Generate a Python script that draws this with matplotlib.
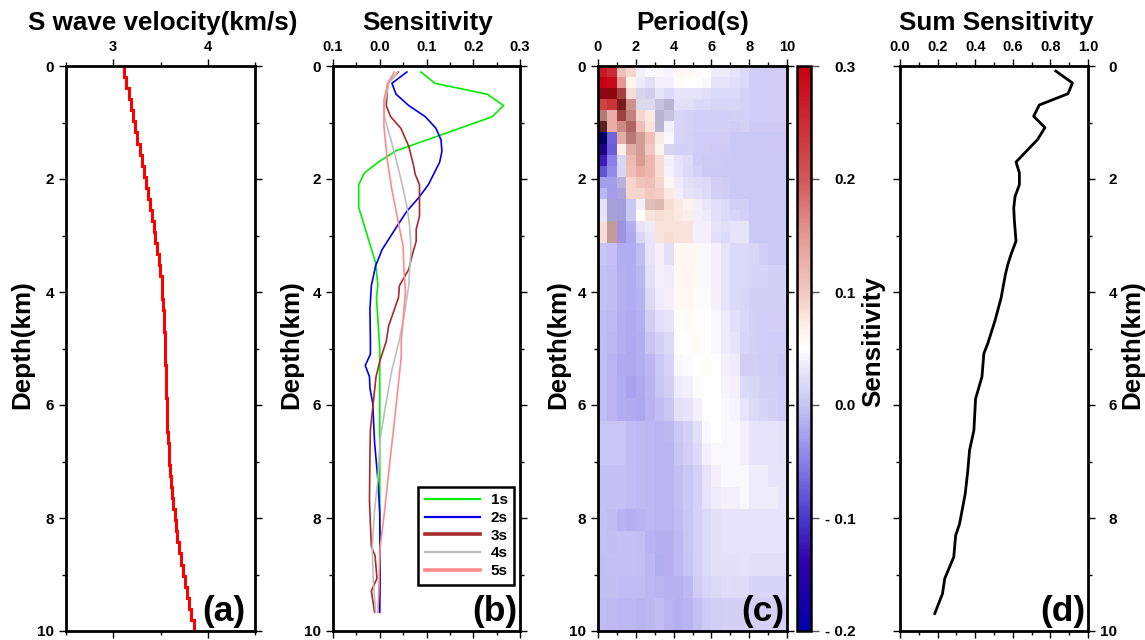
"""
Depth profiles of S wave velocity and surface wave sensitivity, four panels.
Saves out.png.
"""

import numpy as np
import matplotlib
matplotlib.use("Agg")
import matplotlib.pyplot as plt
from matplotlib.colors import LinearSegmentedColormap
from matplotlib.ticker import FixedLocator

plt.rcParams.update({
    "font.family": ["Liberation Sans", "DejaVu Sans"],
    "font.weight": "bold",
    "font.size": 11,
    "axes.linewidth": 2.0,
    "figure.facecolor": "white",
})

# panel (a), one velocity per layer
VS = [3.117, 3.138, 3.163, 3.188, 3.209, 3.23, 3.255, 3.28, 3.301, 3.323, 3.344, 3.365, 3.387,
      3.408, 3.429, 3.447, 3.465, 3.482, 3.496, 3.511, 3.521, 3.528, 3.532, 3.539, 3.543, 3.546,
      3.55, 3.553, 3.557, 3.56, 3.564, 3.567, 3.571, 3.578, 3.585, 3.592, 3.603, 3.613, 3.624,
      3.635, 3.649, 3.663, 3.677, 3.695, 3.713, 3.734, 3.755, 3.78, 3.801, 3.823, 3.851]

# panel (b), sensitivity kernels
S1_X = [.088, .118, .23, .265, .24, .126, .035, -.002, -.033, -.045, -.045, -.009, -.004, -.007, 0, 0, 0, 0]
S1_D = [.106, .306, .5, .7, .9, 1.235, 1.5, 1.694, 1.894, 2.1, 2.5, 3.48, 3.88, 4.1, 5, 6.5, 8, 8.8]
S2_X = [.058, .026, .035, .062, .097, .12, .131, .133, .128, .104, .083, .058, .037, .005, -.009, -.018,
        -.021, -.02, -.02, -.031, -.022, -.021, -.015, -.011, -.004, 0, .001, 0]
S2_D = [.106, .306, .5, .7, .894, 1.1, 1.306, 1.512, 1.706, 2.1, 2.335, 2.57, 2.835, 3.25, 3.54, 3.89,
        4.3, 4.85, 5.1, 5.3, 5.5, 5.7, 5.97, 6.67, 7.32, 7.9, 8.85, 9.67]
S3_X = [.04, .017, .014, .023, .045, .062, .072, .076, .085, .085, .078, .078, .069, .062, .042, .04, .019,
        .014, .001, -.008, -.014, -.02, -.021, -.022, -.018, -.01, -.006, -.018, -.011]
S3_D = [.106, .306, .7, .894, 1.1, 1.42, 1.75, 1.92, 2.1, 2.66, 2.89, 3.1, 3.36, 3.6, 3.89, 4.1, 4.6,
        4.87, 5.2, 5.5, 5.97, 6.44, 6.9, 7.7, 8.5, 8.67, 9.07, 9.29, 9.67]
S4_X = [.038, .019, .01, .01, .023, .037, .048, .058, .064, .067, .064, .062, .051, .042, .026, .012, .001,
        -.004, -.011, -.016, -.014, -.009]
S4_D = [.106, .306, .7, .894, 1.28, 1.72, 2.1, 2.48, 2.835, 3.25, 3.6, 3.89, 4.48, 4.85, 5.38, 6.03, 6.6,
        7.32, 7.85, 8.5, 9.1, 9.67]
S5_X = [.031, .017, .009, .009, .016, .026, .04, .05, .052, .055, .05, .046, .046, .037, .031, .023, .016,
        .01, .001, -.002, -.004]
S5_D = [.106, .306, .6, 1.07, 1.66, 2.19, 2.78, 3.19, 3.66, 4.0, 4.48, 4.85, 5.15, 5.85, 6.32, 6.9, 7.44,
        7.9, 8.5, 9.3, 9.67]
LEGEND_LABELS = ["1s", "2s", "3s", "4s", "5s"]

# panel (c), rows run down in depth, columns are 0.5 s wide
SENS = [
    [.27, .25, .11, .09, .04, .045, .045, .042, .06, .06, .055, .05, .035, .035, .03, .02, .008, .008, .008, .008],
    [.3, .29, .15, .065, .035, .025, .04, .04, .055, .05, .05, .045, .03, .03, .025, .02, .008, .008, .008, .008],
    [.29, .29, .21, .085, .025, .02, .03, .02, .03, .03, .03, .025, .02, .02, .02, .012, .008, .008, .008, .008],
    [.22, .24, .25, .14, .03, .03, .02, .015, .025, .025, .02, .02, .015, .015, .015, .012, .008, .008, .008, .008],
    [.15, .13, .2, .15, .09, .075, .015, .02, .015, .012, .01, .01, .01, .01, .012, .012, .008, .008, .008, .008],
    [.22, .13, .15, .17, .11, .08, .015, .04, .015, .012, .01, .01, .01, .01, .008, .012, .006, .006, .006, .006],
    [-.2, -.07, .12, .15, .13, .11, .075, .045, .015, .012, .008, .008, .008, .008, .005, .005, .005, .005, .005, .005],
    [-.15, -.075, .07, .12, .13, .1, .065, .025, .012, .012, .008, .008, .006, .006, .004, .004, .004, .004, .004, .004],
    [-.12, -.05, .015, .115, .14, .12, .085, .04, .03, .022, .008, .006, .006, .005, .004, .004, .004, .004, .004, .004],
    [-.08, -.04, .015, .11, .13, .12, .085, .042, .03, .02, .012, .005, .005, .005, .004, .004, .004, .004, .004, .004],
    [-.03, -.03, .002, .09, .105, .11, .09, .06, .035, .025, .022, .02, .01, .008, .005, .005, .004, .004, .004, .004],
    [-.01, -.03, -.01, .09, .09, .1, .095, .075, .04, .03, .025, .02, .01, .008, .005, .005, .004, .004, .004, .004],
    [.03, -.012, -.015, .005, .04, .09, .095, .085, .075, .065, .04, .032, .025, .02, .01, .01, .004, .004, .004, .004],
    [.03, -.012, -.015, .005, .05, .08, .085, .08, .075, .07, .04, .035, .025, .02, .015, .012, .004, .004, .004, .004],
    [.085, .11, -.03, -.015, .03, .035, .08, .08, .08, .08, .04, .04, .03, .025, .03, .03, .004, .004, .004, .004],
    [.085, .11, -.03, -.02, .015, .03, .08, .085, .08, .08, .04, .04, .025, .02, .03, .03, .004, .004, .004, .004],
    [0, -.002, -.018, -.018, -.005, .03, .04, .025, .06, .06, .058, .045, .04, .03, .02, .02, .015, .01, .005, .005],
    [-.002, -.005, -.015, -.018, -.01, .025, .04, .035, .06, .062, .058, .045, .04, .03, .02, .02, .015, .015, .012, .012],
    [-.002, -.005, -.015, -.018, -.012, .018, .035, .04, .06, .06, .055, .048, .04, .03, .02, .015, .012, .012, .012, .012],
    [-.005, -.008, -.015, -.02, -.015, .01, .025, .03, .052, .054, .052, .05, .045, .035, .025, .018, .012, .01, .01, .01],
    [-.005, -.01, -.015, -.02, -.018, 0, .012, .02, .05, .052, .054, .05, .045, .035, .03, .015, .012, .01, .008, .008],
    [-.005, -.012, -.02, -.02, -.018, -.01, .005, .015, .045, .048, .05, .052, .05, .04, .035, .01, .01, .008, .008, .005],
    [-.005, -.012, -.018, -.025, -.02, -.012, 0, .01, .035, .04, .048, .05, .05, .042, .04, .02, .015, .012, .01, .008],
    [-.005, -.012, -.018, -.02, -.022, -.012, -.005, .002, .025, .03, .04, .05, .05, .045, .042, .03, .02, .015, .012, .008],
    [0, 0, 0, -.005, -.008, -.01, -.012, -.01, .005, .012, .025, .045, .05, .045, .045, .04, .03, .03, .03, .028],
    [0, 0, 0, -.005, -.008, -.01, -.012, -.012, .003, .01, .02, .04, .045, .045, .045, .04, .03, .03, .03, .028],
    [-.002, -.002, -.002, -.005, -.008, -.01, -.012, -.012, -.003, .005, .012, .03, .04, .045, .045, .045, .035, .035, .03, .03],
    [-.002, -.002, -.002, -.005, -.008, -.01, -.012, -.012, -.003, .005, .012, .03, .035, .04, .04, .045, .035, .035, .035, .03],
    [-.002, -.005, -.012, -.015, -.012, -.01, -.012, -.012, -.005, .002, .012, .02, .028, .03, .03, .03, .03, .03, .03, .03],
    [-.002, -.004, -.002, -.002, -.004, -.012, -.016, -.016, -.008, .002, .012, .02, .028, .03, .03, .03, .03, .03, .03, .03],
    [-.003, -.002, -.001, -.001, -.004, -.01, -.018, -.016, -.008, 0, .012, .02, .028, .028, .028, .03, .025, .025, .025, .025],
    [-.004, -.004, -.005, -.005, -.006, -.01, -.012, -.014, -.014, -.008, .008, .015, .02, .024, .022, .022, .016, .016, .016, .016],
    [-.005, -.008, -.01, -.01, -.012, -.01, -.006, -.012, -.015, -.012, -.004, .006, .01, .012, .012, .012, .012, .012, .012, .012],
]
# layer index of each row edge, 51 layers over 10 km
ROW_EDGES = list(range(17)) + list(range(18, 50, 2)) + [51]

# darkening of the cells near the surface, first 16 rows and 8 columns
DARK = [
    [0, 0, 0, 0, 0, 0, 0, 0],
    [0, 0, 0, 0, 0, 0, 0, 0],
    [.28, .3, .2, 0, .05, .05, 0, 0],
    [0, 0, .4, .1, .05, .05, .1, .15],
    [.2, 0, .25, .15, 0, 0, .15, .1],
    [.55, 0, .1, .2, 0, 0, .15, 0],
    [.4, 0, .05, .2, .1, 0, 0, 0],
    [.2, 0, 0, .05, .1, 0, 0, .05],
    [0, 0, 0, 0, .05, 0, 0, 0],
    [0, 0, 0, 0, 0, 0, 0, 0],
    [0, 0, .1, 0, 0, 0, 0, 0],
    [0, 0, .1, 0, 0, 0, 0, 0],
    [0, .1, .1, 0, 0, .1, .1, 0],
    [0, .1, .1, 0, 0, 0, 0, 0],
    [0, .18, .05, 0, 0, 0, 0, 0],
    [0, .18, .05, 0, 0, 0, 0, 0],
]

CB_STOPS = [-.2, -.14, -.1, -.05, 0, .03, .05, .07, .1, .15, .2, .3]
CB_COLORS = ["#0000a8", "#3000a8", "#4a3acb", "#8a80e8", "#c8c4f4", "#e8e4fa", "#ffffff", "#fdf0e8",
             "#f2c8c0", "#e49a94", "#d05858", "#c80010"]
CB_TICKS = [-.2, -.1, 0, .1, .2, .3]
CB_LABELS = ["- 0.2", "- 0.1", "0.0", "0.1", "0.2", "0.3"]

# panel (d)
SUM_X = [.829, .917, .894, .741, .711, .771, .732, .617, .635, .635, .612, .605, .608, .617, .59, .573, .56,
         .538, .506, .467, .446, .436, .402, .393, .37, .361, .347, .317, .296, .286, .238, .226, .185]
SUM_D = [.09, .3, .49, .69, .89, 1.09, 1.3, 1.7, 1.89, 2.1, 2.31, 2.51, 2.72, 3.1, 3.34, 3.52, 3.7,
         4.1, 4.5, 4.91, 5.09, 5.5, 5.89, 6.45, 6.8, 7.15, 7.57, 8.1, 8.31, 8.69, 9.07, 9.34, 9.69]

W, H = 1145, 640
TOP, BOTTOM = 66, 631
TITLE_SIZE = 18.7


def add_panel(fig, left, right):
    """Axes placed by pixel edges, with depth running downward."""
    ax = fig.add_axes([left / W, 1 - BOTTOM / H, (right - left) / W, (BOTTOM - TOP) / H])
    ax.set_ylim(10, 0)
    ax.yaxis.set_major_locator(FixedLocator([0, 2, 4, 6, 8, 10]))
    ax.yaxis.set_minor_locator(FixedLocator([1, 3, 5, 7, 9]))
    ax.tick_params(axis="y", which="major", length=5, width=1.0, left=True, right=True, labelsize=11)
    ax.tick_params(axis="y", which="minor", length=3, width=1.0, left=True, right=True)
    ax.tick_params(axis="x", which="major", length=5, width=1.0, top=True, bottom=True,
                   labeltop=True, labelbottom=False, labelsize=10.5, pad=3.5)
    ax.tick_params(axis="x", which="minor", length=3, width=1.0, top=True, bottom=True)
    return ax


def finish_panel(fig, ax, title, title_x, letter, letter_x, label_x):
    fig.text(title_x / W, 1 - 23 / H, title, fontsize=TITLE_SIZE, ha="center", va="center")
    fig.text(label_x / W, 1 - 345 / H, "Depth(km)", fontsize=TITLE_SIZE, rotation=90, ha="center", va="center")
    ax.text(letter_x, 0.006, letter, transform=ax.transAxes, fontsize=25.5, ha="right", va="bottom", zorder=10)


fig = plt.figure(figsize=(W / 100, H / 100), dpi=100)

# (a)
ax = add_panel(fig, 66, 255)
ax.stairs(VS, np.linspace(0, 10, 52), orientation="horizontal", baseline=None, color="#ff0000", linewidth=2.2)
ax.set_xlim(2.5, 4.5)
ax.xaxis.set_major_locator(FixedLocator([3, 4]))
ax.xaxis.set_minor_locator(FixedLocator([2.5, 3.5, 4.5]))
finish_panel(fig, ax, "S wave velocity(km/s)", 163, "(a)", 0.95, 22)

# (b)
ax = add_panel(fig, 333, 520)
lw = 1.2
line_styles = [(S1_X, S1_D, "#00ee00"), (S2_X, S2_D, "#0000ee"), (S3_X, S3_D, "#a52a2a"),
               (S4_X, S4_D, "#bebebe"), (S5_X, S5_D, "#ff8a8a")]
for (xs, ds, color), label in zip(line_styles, LEGEND_LABELS):
    ax.plot(xs, ds, color=color, linewidth=lw, label=label)
ax.set_xlim(-0.1, 0.3)
ax.xaxis.set_major_locator(FixedLocator([-.1, 0, .1, .2, .3]))
ax.set_xticklabels(["0.1", "0.0", "0.1", "0.2", "0.3"])
ax.xaxis.set_minor_locator(FixedLocator([-.05, .05, .15, .25]))
leg = ax.legend(loc="lower left", bbox_to_anchor=(85 / 187, 46 / 565), frameon=True, fancybox=False,
                framealpha=1, edgecolor="black", fontsize=11, handlelength=3.6, labelspacing=0.24,
                borderpad=0.45, handletextpad=0.7, borderaxespad=0)
leg.get_frame().set_linewidth(1.8)
for line, width in zip(leg.get_lines(), [1.6, 1.6, 2.6, 1.6, 2.6]):
    line.set_linewidth(width)
finish_panel(fig, ax, "Sensitivity", 428, "(b)", 0.985, 291)

# (c)
ax = add_panel(fig, 598, 787)
span = CB_STOPS[-1] - CB_STOPS[0]
cmap = LinearSegmentedColormap.from_list(
    "sens", [((s - CB_STOPS[0]) / span, c) for s, c in zip(CB_STOPS, CB_COLORS)])
col_edges = np.linspace(0, 10, 21)
row_edges = np.array(ROW_EDGES) * 10 / 51
mesh = ax.pcolormesh(col_edges, row_edges, np.array(SENS), cmap=cmap, vmin=-0.2, vmax=0.3,
                     shading="flat", rasterized=True)
dark_cmap = LinearSegmentedColormap.from_list("dark", [(0, 0, 0, 0), (0, 0, 0, 1)])
ax.pcolormesh(col_edges[:9], row_edges[:17], np.array(DARK), cmap=dark_cmap, vmin=0, vmax=1, shading="flat")
ax.set_xlim(0, 10)
ax.set_ylim(10, 0)
ax.xaxis.set_major_locator(FixedLocator([0, 2, 4, 6, 8, 10]))
ax.xaxis.set_minor_locator(FixedLocator([1, 3, 5, 7, 9]))
finish_panel(fig, ax, "Period(s)", 693, "(c)", 0.985, 558)

cax = fig.add_axes([797 / W, 1 - BOTTOM / H, 14 / W, (BOTTOM - TOP) / H])
cb = fig.colorbar(mesh, cax=cax, ticks=CB_TICKS)
cb.ax.set_yticklabels(CB_LABELS, ha="right")
cb.ax.tick_params(length=6, width=1.0, labelsize=11, pad=26, color="#555555")
cb.outline.set_linewidth(1.8)
fig.text(873 / W, 1 - 342 / H, "Sensitivity", fontsize=TITLE_SIZE, rotation=90, ha="center", va="center")

# (d)
ax = add_panel(fig, 900, 1088)
ax.plot(SUM_X, SUM_D, color="black", linewidth=2.0)
ax.set_xlim(0, 1)
ax.xaxis.set_major_locator(FixedLocator([0, .2, .4, .6, .8, 1.0]))
ax.xaxis.set_minor_locator(FixedLocator([.1, .3, .5, .7, .9]))
ax.tick_params(axis="y", which="major", labelleft=False, labelright=True, pad=16)
for label in ax.get_yticklabels():
    label.set_ha("right")
finish_panel(fig, ax, "Sum Sensitivity", 996, "(d)", 0.985, 1132)

fig.savefig("out.png", dpi=100)
plt.close()
print("Saved out.png")
